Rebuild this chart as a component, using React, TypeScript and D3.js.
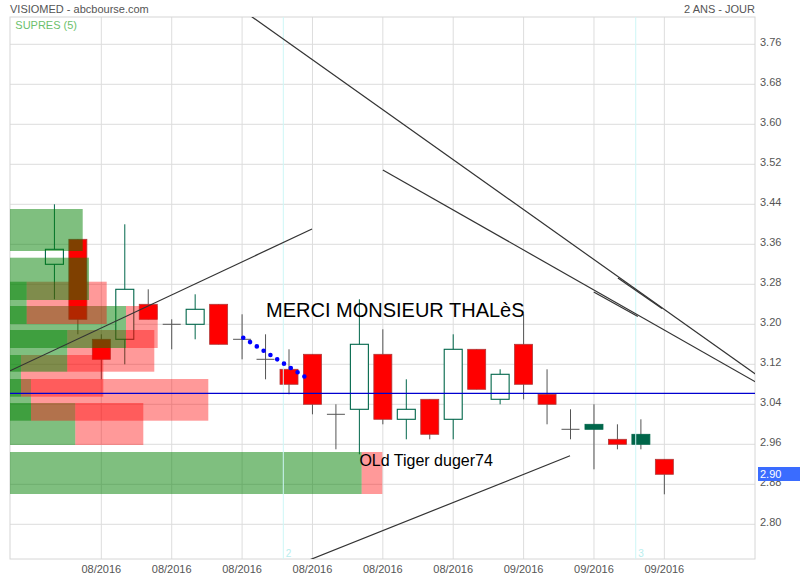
import React from "react";
import * as d3 from "d3";

// ---- data ----
const opens = [3.32, 3.37, 3.17, 3.17, 3.24, 3.20, 3.20, 3.24, 3.17, 3.13, 3.11, 3.14, 3.02, 3.03, 3.14, 3.01, 3.05, 3.01, 3.15, 3.05, 3.16, 3.06, 2.99, 3.00, 2.97, 2.98, 2.93];
const highs = [3.44, 3.37, 3.18, 3.40, 3.27, 3.21, 3.26, 3.24, 3.22, 3.18, 3.15, 3.14, 3.04, 3.25, 3.19, 3.09, 3.05, 3.18, 3.15, 3.11, 3.22, 3.11, 3.03, 3.04, 3.00, 3.01, 2.93];
const lows = [3.25, 3.18, 3.09, 3.12, 3.21, 3.15, 3.17, 3.16, 3.13, 3.09, 3.06, 3.02, 2.95, 2.94, 3.00, 2.97, 2.97, 2.97, 3.07, 3.04, 3.05, 3.00, 2.97, 2.91, 2.95, 2.95, 2.86];
const closes = [3.35, 3.21, 3.13, 3.27, 3.21, 3.20, 3.23, 3.16, 3.17, 3.13, 3.08, 3.04, 3.02, 3.16, 3.01, 3.03, 2.98, 3.15, 3.07, 3.10, 3.08, 3.04, 2.99, 2.99, 2.96, 2.96, 2.90];

const xTickIdx = [2, 5, 8, 11, 14, 17, 20, 23, 26];
const xTickLabels = ["08/2016", "08/2016", "08/2016", "08/2016", "08/2016", "08/2016", "09/2016", "09/2016", "09/2016"];
const yTicks = [2.80, 2.88, 2.96, 3.04, 3.12, 3.20, 3.28, 3.36, 3.44, 3.52, 3.60, 3.68, 3.76];

// volume-at-price profile (bottom to top)
const profileLow = [2.8606, 2.9586, 3.0072, 3.0552, 3.1052, 3.1526, 3.2006, 3.2486, 3.3466];
const profileHigh = [2.9446, 3.0426, 3.0906, 3.1386, 3.1886, 3.2366, 3.2852, 3.3332, 3.4306];
const profileBuy = [351.7, 65.3, 21, 11, 57.3, 116, 16.7, 79, 72.7];
const profileSell = [20.6, 68, 177.3, 82.3, 87, 31.7, 80, 0, 0];

// trend lines: [index0, price0, index1, price1]
const trendLines: [number, number, number, number][] = [
  [-1.893, 3.107, 10.98, 3.3906],
  [10.5, 2.7218, 21.98, 2.937],
  [8.41, 3.8152, 29.9, 3.0998],
  [14.0, 3.5086, 29.9, 3.0845],
  [24.02, 3.2926, 25.9, 3.2316],
  [22.99, 3.2646, 24.87, 3.2156],
];
const supportLevel = 3.062;
const dottedLine: [number, number, number, number] = [8.05, 3.173, 10.94, 3.087];
const periodMarks = [9.757, 24.78];
const periodLabels = ["2", "3"];
const notes = [
  { text: "MERCI MONSIEUR THALèS", i: 9.02, p: 3.214 },
  { text: "OLd Tiger duger74", i: 13.0, p: 2.9166 },
];
const lastPrice = 2.90;

// ---- layout ----
const W = 800, H = 580;
const L = 10, R = 755, T = 17, B = 559;
const FONT = "'Liberation Sans', Arial, Helvetica, sans-serif";

export default function App() {
  const x = d3.scaleLinear().domain([-1.893, 29.864]).range([L, R]);
  const y = d3.scaleLinear().domain([2.7306, 3.8146]).range([B, T]);
  const vol = d3.scaleLinear().domain([0, 400]).range([0, 400]);
  const bw = 18;
  const grid = "#dddddd";
  const upColor = "#00664a";
  const wickGray = "#555555";

  const candles = opens.map((o, i) => {
    const c = closes[i], h = highs[i], l = lows[i];
    const cx = x(i);
    const prev = i > 0 ? closes[i - 1] : o;
    if (Math.abs(c - o) < 1e-9) {
      return (
        <g key={i}>
          <line x1={cx} x2={cx} y1={y(h)} y2={y(l)} stroke={wickGray} strokeWidth={1} />
          <line x1={cx - bw / 2} x2={cx + bw / 2} y1={y(o)} y2={y(o)} stroke={wickGray} strokeWidth={1} />
        </g>
      );
    }
    if (c > o) {
      return (
        <g key={i}>
          <line x1={cx} x2={cx} y1={y(h)} y2={y(l)} stroke={upColor} strokeWidth={1} />
          <rect x={cx - bw / 2} y={y(c)} width={bw} height={y(o) - y(c)} fill="#ffffff" stroke={upColor} strokeWidth={1.1} />
        </g>
      );
    }
    const green = c >= prev;
    return (
      <g key={i}>
        <line x1={cx} x2={cx} y1={y(h)} y2={y(l)} stroke={wickGray} strokeWidth={1} />
        <rect x={cx - bw / 2} y={y(o)} width={bw} height={y(c) - y(o)}
          fill={green ? upColor : "#ff0000"} stroke={green ? upColor : "#b03a3a"} strokeWidth={0.8} />
      </g>
    );
  });

  const lineGen = d3.line<[number, number]>().x(d => x(d[0])).y(d => y(d[1]));

  return (
    <svg width={W} height={H} style={{ position: "absolute", left: 0, top: 0, background: "#fff" }} fontFamily={FONT}>
      <defs>
        <clipPath id="plot">
          <rect x={L} y={T} width={R - L} height={B - T} />
        </clipPath>
      </defs>
      {/* grid */}
      {yTicks.map(t => (
        <line key={"gy" + t} x1={L} x2={R} y1={y(t)} y2={y(t)} stroke={grid} strokeWidth={1} />
      ))}
      {xTickIdx.map(i => (
        <line key={"gx" + i} x1={x(i)} x2={x(i)} y1={T} y2={B} stroke={grid} strokeWidth={1} />
      ))}
      <rect x={L} y={T} width={R - L} height={B - T} fill="none" stroke="#d6d6d6" strokeWidth={1} />

      <g clipPath="url(#plot)">
        {candles}
        {/* volume profile */}
        {profileLow.map((lo, k) => {
          const hi = profileHigh[k];
          const gw = vol(profileBuy[k]);
          const rw = vol(profileSell[k]);
          return (
            <g key={"vp" + k}>
              <rect x={L} y={y(hi)} width={gw} height={y(lo) - y(hi)} fill="rgba(0,128,0,0.5)" />
              {rw > 0 && <rect x={L + gw} y={y(hi)} width={rw} height={y(lo) - y(hi)} fill="rgba(255,0,0,0.4)" />}
            </g>
          );
        })}
        {/* period marks */}
        {periodMarks.map((m, k) => (
          <g key={"pm" + k}>
            <line x1={x(m)} x2={x(m)} y1={T} y2={B} stroke="#cdf7f7" strokeWidth={1} />
            <text x={x(m) + 2.5} y={B - 2} fontSize={10} fill="#b8eeee">{periodLabels[k]}</text>
          </g>
        ))}
        {/* trend lines */}
        {trendLines.map((t, k) => (
          <path key={"tl" + k} d={lineGen([[t[0], t[1]], [t[2], t[3]]]) || ""} stroke="#333333" strokeWidth={1.2} fill="none" />
        ))}
        <line x1={L} x2={R} y1={y(supportLevel)} y2={y(supportLevel)} stroke="#0000d0" strokeWidth={1.2} />
        <path d={lineGen([[dottedLine[0], dottedLine[1]], [dottedLine[2], dottedLine[3]]]) || ""}
          stroke="#0000ff" strokeWidth={4.6} strokeDasharray="0 8.04" strokeLinecap="round" fill="none" />
        {notes.map((n, k) => (
          <text key={"n" + k} x={x(n.i)} y={y(n.p)} fontSize={k === 0 ? 20 : 16} fill="#000">{n.text}</text>
        ))}
      </g>

      {/* y axis labels */}
      {yTicks.map(t => (
        <text key={"yl" + t} x={760} y={y(t) + 1.4} fontSize={11} fill="#555">{t.toFixed(2)}</text>
      ))}
      {/* last price */}
      <rect x={758} y={y(lastPrice) - 7.3} width={42} height={14} fill="#3a6cff" />
      <text x={760} y={y(lastPrice) + 3.6} fontSize={11} fill="#ffffff">{lastPrice.toFixed(2)}</text>
      {/* x axis labels */}
      {xTickIdx.map((i, k) => (
        <text key={"xl" + i} x={x(i)} y={573.3} fontSize={11} fill="#555" textAnchor="middle">{xTickLabels[k]}</text>
      ))}
      {/* header */}
      <text x={10} y={13.3} fontSize={11} fill="#555">VISIOMED - abcbourse.com</text>
      <text x={755} y={13.3} fontSize={11} fill="#555" textAnchor="end">2 ANS - JOUR</text>
      <text x={15.3} y={29} fontSize={11} fill="#6cbf6c">SUPRES (5)</text>
    </svg>
  );
}
